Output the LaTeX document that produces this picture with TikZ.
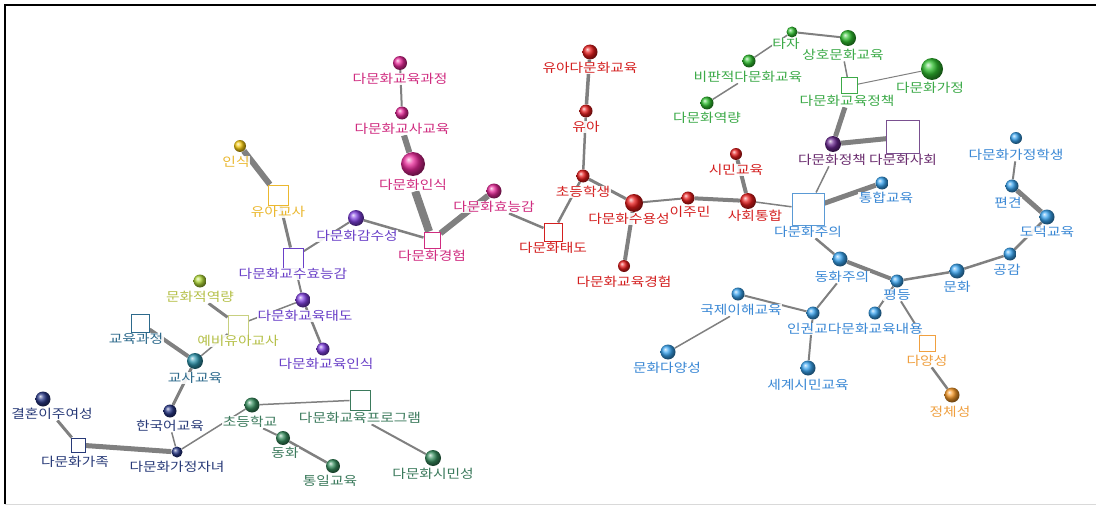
\documentclass[tikz,border=0pt]{standalone}
\usepackage{fontspec}
\setmainfont{Noto Sans CJK KR}[FakeStretch=1.18]
\usetikzlibrary{backgrounds}
\definecolor{eg}{HTML}{808080}
\definecolor{yelB}{HTML}{F8CC10}\definecolor{yelL}{HTML}{EBB830}
\definecolor{purB}{HTML}{8040E0}\definecolor{purL}{HTML}{6A40C8}
\definecolor{ygB}{HTML}{B0D838}\definecolor{ygL}{HTML}{B5C048}\definecolor{ygS}{HTML}{C8D080}
\definecolor{tealB}{HTML}{3098B0}\definecolor{tealL}{HTML}{2D6A8C}
\definecolor{navyB}{HTML}{283888}\definecolor{navyL}{HTML}{283A78}
\definecolor{dgB}{HTML}{389060}\definecolor{dgL}{HTML}{3B7A5C}
\definecolor{magB}{HTML}{E82898}\definecolor{magL}{HTML}{D02C80}
\definecolor{redB}{HTML}{E81C1C}\definecolor{redL}{HTML}{D42020}
\definecolor{bluB}{HTML}{38A4F0}\definecolor{bluL}{HTML}{3A88D5}\definecolor{bluS}{HTML}{5A9AD5}
\definecolor{oraB}{HTML}{F89A28}\definecolor{oraL}{HTML}{F0A040}
\definecolor{grnB}{HTML}{30C030}\definecolor{grnL}{HTML}{3CAA48}
\definecolor{dpB}{HTML}{6A2890}\definecolor{dpL}{HTML}{6A2C6E}\definecolor{dpS}{HTML}{7A5090}
\newcommand\bl[5]{\node[ballnode, ball color=#5, minimum size=#4pt] (#1) at (#2,#3) {};}
\newcommand\sq[5]{\node[sqnode, draw=#5, minimum size=#4pt] (#1) at (#2,#3) {};}
\newcommand\lb[5]{\node[lab, text=#4] (#1l) at (#2,#3) {#5};}
\begin{document}
\begin{tikzpicture}[x=1pt,y=-1pt,
  ballnode/.style={circle, inner sep=0pt},
  sqnode/.style={rectangle, fill=white, line width=1pt, inner sep=0pt},
  lab/.style={inner sep=0.5pt, fill=white, fill opacity=0.9, text opacity=1, font=\fontsize{12.5}{13}\selectfont},
  cn/.style={draw=eg, line width=#1pt}]
\useasboundingbox (0,0) rectangle (1096,511);
\draw[line width=1.5pt, black] (5,504) -- (5,5) -- (1096,5);
\draw[line width=1pt, black!15] (5,504) -- (1096,504);
% yellow
\bl{n1}{240}{146}{12}{yelB}\lb{n1}{236}{162}{yelL}{인식}
\sq{n2}{278}{195}{20}{yelL}\lb{n2}{278}{212}{yelL}{유아교사}
% purple
\sq{n3}{293}{258}{20}{purL}\lb{n3}{293}{274}{purL}{다문화교수효능감}
\bl{n4}{356}{218}{16}{purB}\lb{n4}{357}{236}{purL}{다문화감수성}
\bl{n5}{303}{300}{15}{purB}\lb{n5}{305}{316}{purL}{다문화교육태도}
\bl{n6}{323}{349}{13}{purB}\lb{n6}{326}{364}{purL}{다문화교육인식}
% yellow-green
\bl{n7}{200}{281}{13}{ygB}\lb{n7}{200}{297}{ygL}{문화적역량}
\sq{n8}{238}{325}{20}{ygS}\lb{n8}{238}{341}{ygL}{예비유아교사}
% teal
\sq{n9}{140}{323}{18}{tealL}\lb{n9}{136}{339}{tealL}{교육과정}
\bl{n10}{195}{361}{16}{tealB}\lb{n10}{195}{378}{tealL}{교사교육}
% navy
\bl{n11}{170}{411}{13}{navyB}\lb{n11}{170}{426}{navyL}{한국어교육}
\bl{n12}{43}{399}{15}{navyB}\lb{n12}{52}{414}{navyL}{결혼이주여성}
\sq{n13}{78}{445}{14}{navyL}\lb{n13}{75}{462}{navyL}{다문화가족}
\bl{n14}{177}{452}{11}{navyB}\lb{n14}{177}{467}{navyL}{다문화가정자녀}
% dark green
\bl{n15}{252}{405}{15}{dgB}\lb{n15}{250}{422}{dgL}{초등학교}
\sq{n16}{360}{400}{20}{dgL}\lb{n16}{360}{418}{dgL}{다문화교육프로그램}
\bl{n17}{283}{438}{14}{dgB}\lb{n17}{285}{453}{dgL}{동화}
\bl{n18}{333}{466}{14}{dgB}\lb{n18}{330}{481}{dgL}{통일교육}
\bl{n19}{433}{458}{16}{dgB}\lb{n19}{433}{474}{dgL}{다문화시민성}
% magenta
\bl{n20}{400}{63}{14}{magB}\lb{n20}{400}{79}{magL}{다문화교육과정}
\bl{n21}{402}{113}{13}{magB}\lb{n21}{402}{129}{magL}{다문화교사교육}
\bl{n22}{413}{164}{24}{magB}\lb{n22}{413}{185}{magL}{다문화인식}
\sq{n23}{432}{240}{16}{magL}\lb{n23}{432}{256}{magL}{다문화경험}
\bl{n24}{494}{191}{15}{magB}\lb{n24}{494}{207}{magL}{다문화효능감}
% red
\sq{n25}{553}{232}{18}{redL}\lb{n25}{553}{248}{redL}{다문화태도}
\bl{n26}{590}{52}{15}{redB}\lb{n26}{590}{68}{redL}{유아다문화교육}
\bl{n27}{586}{111}{13}{redB}\lb{n27}{586}{127}{redL}{유아}
\bl{n28}{583}{176}{13}{redB}\lb{n28}{583}{192}{redL}{초등학생}
\bl{n29}{634}{203}{18}{redB}\lb{n29}{629}{219}{redL}{다문화수용성}
\bl{n30}{624}{266}{12}{redB}\lb{n30}{624}{282}{redL}{다문화교육경험}
\bl{n31}{688}{198}{13}{redB}\lb{n31}{690}{212}{redL}{이주민}
\bl{n32}{748}{201}{16}{redB}\lb{n32}{755}{216}{redL}{사회통합}
\bl{n33}{736}{154}{12}{redB}\lb{n33}{736}{170}{redL}{시민교육}
% blue
\sq{n34}{808}{209}{32}{bluS}\lb{n34}{808}{232}{bluL}{다문화주의}
\bl{n35}{882}{183}{13}{bluB}\lb{n35}{886}{198}{bluL}{통합교육}
\bl{n36}{840}{259}{15}{bluB}\lb{n36}{842}{277}{bluL}{동화주의}
\bl{n37}{897}{281}{13}{bluB}\lb{n37}{897}{295}{bluL}{평등}
\bl{n38}{957}{271}{15}{bluB}\lb{n38}{957}{287}{bluL}{문화}
\bl{n39}{1010}{254}{13}{bluB}\lb{n39}{1007}{270}{bluL}{공감}
\bl{n40}{1047}{217}{15}{bluB}\lb{n40}{1047}{232}{bluL}{도덕교육}
\bl{n41}{1012}{186}{13}{bluB}\lb{n41}{1008}{203}{bluL}{편견}
\bl{n42}{1016}{138}{12}{bluB}\lb{n42}{1016}{155}{bluL}{다문화가정학생}
\bl{n43}{813}{313}{13}{bluB}
\bl{n44}{875}{313}{13}{bluB}\lb{n44}{855}{329}{bluL}{인권교다문화교육내용}
\bl{n45}{738}{294}{13}{bluB}\lb{n45}{741}{310}{bluL}{국제이해교육}
\bl{n46}{668}{352}{15}{bluB}\lb{n46}{667}{368}{bluL}{문화다양성}
\bl{n47}{808}{368}{15}{bluB}\lb{n47}{808}{385}{bluL}{세계시민교육}
% orange
\sq{n48}{927}{343}{16}{oraL}\lb{n48}{927}{361}{oraL}{다양성}
\bl{n49}{952}{395}{15}{oraB}\lb{n49}{950}{412}{oraL}{정체성}
% green
\bl{n50}{707}{103}{13}{grnB}\lb{n50}{707}{118}{grnL}{다문화역량}
\bl{n51}{749}{61}{13}{grnB}\lb{n51}{748}{77}{grnL}{비판적다문화교육}
\bl{n52}{792}{32}{11}{grnB}\lb{n52}{786}{44}{grnL}{타자}
\bl{n53}{848}{38}{16}{grnB}\lb{n53}{843}{55}{grnL}{상호문화교육}
\sq{n54}{849}{86}{16}{grnL}\lb{n54}{847}{101}{grnL}{다문화교육정책}
\bl{n55}{932}{69}{22}{grnB}\lb{n55}{930}{88}{grnL}{다문화가정}
\bl{n56}{833}{144}{16}{dpB}\lb{n56}{832}{160}{dpL}{다문화정책}
\sq{n57}{903}{137}{33}{dpS}\lb{n57}{903}{160}{dpL}{다문화사회}
\begin{scope}[on background layer]
\draw[cn=6] (n1) -- (n2);
\draw[cn=3] (n2) -- (n3);
\draw[cn=2] (n3) -- (n4);
\draw[cn=2.5] (n4) -- (n23);
\draw[cn=2] (n3) -- (n5);
\draw[cn=2.5] (n5) -- (n6);
\draw[cn=1.5] (n5) -- (n8);
\draw[cn=3] (n7l) -- (n8);
\draw[cn=1.5] (n8) -- (n10);
\draw[cn=4] (n9) -- (n10);
\draw[cn=3] (n10) -- (n11);
\draw[cn=3] (n12l) -- (n13);
\draw[cn=5] (n13) -- (n14);
\draw[cn=1.5] (n11l) -- (n14);
\draw[cn=1.5] (n14) -- (n15);
\draw[cn=1.5] (n15) -- (n16);
\draw[cn=2] (n15l) -- (n17);
\draw[cn=2.5] (n17) -- (n18);
\draw[cn=2] (n16l) -- (n19);
\draw[cn=2] (n20) -- (n21);
\draw[cn=6] (n21l) -- (n22);
\draw[cn=8] (n22l) -- (n23);
\draw[cn=6] (n23) -- (n24);
\draw[cn=2.5] (n24l) -- (n25);
\draw[cn=2.5] (n25) -- (n28);
\draw[cn=3.5] (n26) -- (n27);
\draw[cn=2.5] (n27) -- (n28);
\draw[cn=3] (n28) -- (n29);
\draw[cn=4] (n29) -- (n30);
\draw[cn=2] (n29) -- (n31);
\draw[cn=4] (n31) -- (n32);
\draw[cn=4] (n33) -- (n32);
\draw[cn=1.5] (n32) -- (n34);
\draw[cn=5] (n34) -- (n35);
\draw[cn=2.5] (n34l) -- (n36);
\draw[cn=4] (n36) -- (n37);
\draw[cn=2.5] (n37) -- (n38);
\draw[cn=2.5] (n38) -- (n39);
\draw[cn=2.5] (n39) -- (n40);
\draw[cn=5] (n41) -- (n40);
\draw[cn=2] (n42l) -- (n41);
\draw[cn=2] (n36l) -- (n43);
\draw[cn=2] (n44) -- (n37);
\draw[cn=2] (n45) -- (n43);
\draw[cn=1.5] (n46) -- (n45l);
\draw[cn=2] (n43) -- (n47);
\draw[cn=2] (n37l) -- (n48);
\draw[cn=2.5] (n48l) -- (n49);
\draw[cn=1.5] (n50) -- (n51l);
\draw[cn=1.5] (n51) -- (n52);
\draw[cn=2] (n52) -- (n53);
\draw[cn=1.5] (n53l) -- (n54);
\draw[cn=1] (n54) -- (n55);
\draw[cn=5] (n54l) -- (n56);
\draw[cn=5] (n56) -- (n57);
\draw[cn=1.5] (n56l) -- (n34);
\end{scope}
\end{tikzpicture}
\end{document}
